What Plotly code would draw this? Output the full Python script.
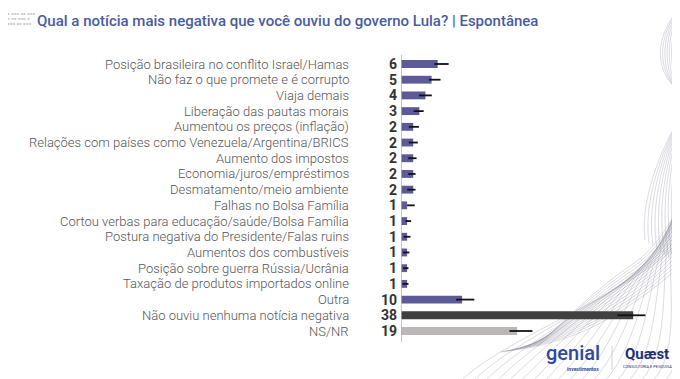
import plotly.graph_objects as go

categories = [
    "Posição brasileira no conflito Israel/Hamas",
    "Não faz o que promete e é corrupto",
    "Viaja demais",
    "Liberação das pautas morais",
    "Aumentou os preços (inflação)",
    "Relações com países como Venezuela/Argentina/BRICS",
    "Aumento dos impostos",
    "Economia/juros/empréstimos",
    "Desmatamento/meio ambiente",
    "Falhas no Bolsa Família",
    "Cortou verbas para educação/saúde/Bolsa Família",
    "Postura negativa do Presidente/Falas ruins",
    "Aumentos dos combustíveis",
    "Posição sobre guerra Rússia/Ucrânia",
    "Taxação de produtos importados online",
    "Outra",
    "Não ouviu nenhuma notícia negativa",
    "NS/NR",
]
values = [6, 5, 4, 3, 2, 2, 2, 2, 2, 1, 1, 1, 1, 1, 1, 10, 38, 19]
err_plus = [1.8, 1.47, 1.04, 0.71, 0.93, 0.76, 0.55, 0.38, 0.38, 1.25, 0.65, 0.55, 0.38, 0.22, 0.22, 2.0, 2.0, 2.5]
err_minus = [0.55, 0.44, 1.04, 0.93, 0.71, 0.71, 0.82, 0.82, 0.98, 0.0, 0.27, 0.55, 0.65, 0.65, 0.76, 0.98, 2.6, 1.25]
bar_colors = ["#5c5a97"] * 16 + ["#404040", "#bcb7b7"]

# page has an 8px body margin: place everything in screen pixels minus that offset
OFF = 8
W, H = 680, 379
L, R, T, B = 401 - OFF, 676 - OFF, 54 - OFF, 341 - OFF


def px(x):
    return (x - OFF - L) / (R - L)


def py(y):
    return (B - (y - OFF)) / (B - T)


fig = go.Figure()
fig.add_trace(go.Bar(
    x=values, y=categories, orientation="h",
    marker=dict(color=bar_colors, line=dict(width=0)),
    width=0.5,
    error_x=dict(type="data", symmetric=False, array=err_plus, arrayminus=err_minus,
                 color="#111111", thickness=1.8, width=0),
    hoverinfo="skip",
))

annotations = []
for c, v in zip(categories, values):
    annotations.append(dict(
        x=0, y=c, xref="x", yref="y", text=f"<b>{v}</b>", showarrow=False,
        xanchor="right", yanchor="middle", xshift=-2,
        font=dict(family="Roboto", size=14, color="#333333"),
    ))
    annotations.append(dict(
        x=0, y=c, xref="x", yref="y", text=c, showarrow=False,
        xanchor="right", yanchor="middle", xshift=-50,
        font=dict(family="Roboto", size=13, color="#555555", weight=300),
    ))

# logos
annotations += [
    dict(x=px(573), y=py(353), xref="paper", yref="paper", text="genial", showarrow=False,
         font=dict(family="Roboto", size=20, color="#2d4aa0", weight=500), xanchor="center", yanchor="middle"),
    dict(x=px(583), y=py(369), xref="paper", yref="paper", text="<b>investimentos</b>", showarrow=False,
         font=dict(family="Roboto", size=5, color="#2d4aa0"), xanchor="center", yanchor="middle"),
    dict(x=px(647), y=py(354), xref="paper", yref="paper", text="<b>Quæst</b>", showarrow=False,
         font=dict(family="Roboto", size=15, color="#1f2f7a"), xanchor="center", yanchor="middle"),
    dict(x=px(647), y=py(366), xref="paper", yref="paper", text="CONSULTORIA E PESQUISA", showarrow=False,
         font=dict(family="Roboto", size=4, color="#1f2f7a"), xanchor="center", yanchor="middle"),
    dict(x=px(5), y=py(9), xref="paper", yref="paper",
         text="▪ ▪▪▪ ▪▪ ▪▪▪<br>▪ ▪▪ ▪▪▪ ▪<br>▪▪▪ ▪▪ ▪▪▪",
         showarrow=False, align="left", xanchor="left", yanchor="top",
         font=dict(family="DejaVu Sans", size=4, color="#cfcfcf")),
]

shapes = []
line_style = dict(color="rgba(140,140,160,0.45)", width=0.7)
# bundle from the NS/NR bar end sweeping up-right
for i in range(14):
    path = (f"M {px(500 + i * 3)},{py(352 - i * 0.5)} C {px(565)},{py(345 - i * 2)} "
            f"{px(600)},{py(325 - i * 3)} {px(630)},{py(305 - i * 3)} "
            f"S {px(668)},{py(275 - i * 4)} {px(684)},{py(265 - i * 5)}")
    shapes.append(dict(type="path", path=path, xref="paper", yref="paper", line=line_style, layer="below"))
# lines rising from the bottom edge
for i in range(18):
    x0 = 460 + i * 12
    path = (f"M {px(x0)},{py(382)} C {px(x0 + 40)},{py(340)} {px(620 + i * 2)},{py(300 - i * 4)} "
            f"{px(684)},{py(240 - i * 3)}")
    shapes.append(dict(type="path", path=path, xref="paper", yref="paper", line=line_style, layer="below"))
# right-edge vertical arcs
for i in range(10):
    path = (f"M {px(684)},{py(2)} C {px(650 + i * 3)},{py(40)} {px(655 + i * 3)},{py(75)} "
            f"{px(684)},{py(95 + i * 2)}")
    shapes.append(dict(type="path", path=path, xref="paper", yref="paper", line=line_style, layer="below"))
for i in range(10):
    path = (f"M {px(684)},{py(110)} C {px(660 + i * 2)},{py(150)} {px(640 + i * 3)},{py(200)} "
            f"{px(645 + i * 4)},{py(240 + i * 3)}")
    shapes.append(dict(type="path", path=path, xref="paper", yref="paper", line=line_style, layer="below"))
# logo divider
shapes.append(dict(type="line", x0=px(612), x1=px(612), y0=py(346), y1=py(370), xref="paper", yref="paper",
                   line=dict(color="#d0d0d0", width=1)))
# vertical axis line
shapes.append(dict(type="line", x0=0, x1=0, y0=py(55), y1=py(342), xref="x", yref="paper",
                   line=dict(color="#b0b0b0", width=1.5)))

fig.update_layout(
    width=W, height=H,
    margin=dict(l=L, r=W - R, t=T, b=H - B),
    paper_bgcolor="white", plot_bgcolor="rgba(0,0,0,0)",
    showlegend=False,
    title=dict(
        text="Qual a notícia mais negativa que você ouviu do governo Lula? | Espontânea",
        x=(37 - OFF) / W, xanchor="left", xref="container",
        y=1 - (21 - OFF) / H, yanchor="middle", yref="container",
        font=dict(family="Roboto", size=15, color="#4a5c9c", weight=500),
    ),
    xaxis=dict(range=[0, 45], visible=False, fixedrange=True),
    yaxis=dict(autorange="reversed", showgrid=False, zeroline=False,
               showline=False, ticks="", showticklabels=False),
    annotations=annotations,
    shapes=shapes,
)

fig.write_html("out.html")
